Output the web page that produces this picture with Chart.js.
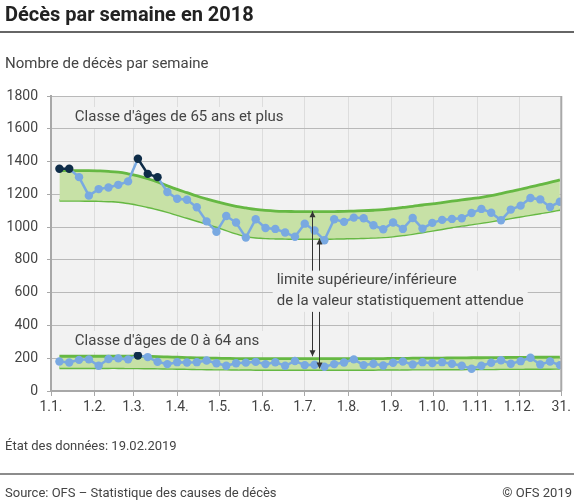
<!DOCTYPE html>
<html>
<head>
<meta charset="utf-8">
<script src="https://cdn.jsdelivr.net/npm/chart.js@4/dist/chart.umd.min.js"></script>
<style>
    html, body { margin: 0; padding: 0; background: #fff; }
    canvas { display: block; }
</style>
</head>
<body>
<canvas id="deathsChart" width="574" height="501"></canvas>
<script>
// Weeks of 2018 (ISO weeks, plotted on the Sunday ending each week)
const weeks = [1, 2, 3, 4, 5, 6, 7, 8, 9, 10, 11, 12, 13, 14, 15, 16, 17, 18, 19, 20,
    21, 22, 23, 24, 25, 26, 27, 28, 29, 30, 31, 32, 33, 34, 35, 36, 37, 38, 39, 40,
    41, 42, 43, 44, 45, 46, 47, 48, 49, 50, 51, 52];

// Age class 65+
const deaths65 = [1356, 1356, 1305, 1192, 1232, 1242, 1258, 1279, 1417, 1325,
    1305, 1214, 1173, 1167, 1121, 1035, 971, 1068, 1028, 936,
    1048, 995, 989, 967, 941, 1021, 979, 920, 1048, 1032,
    1058, 1054, 1011, 987, 1028, 989, 1056, 991, 1026, 1044,
    1050, 1054, 1086, 1111, 1088, 1042, 1107, 1131, 1178, 1169,
    1123, 1155];
const upper65 = [1345, 1345, 1345, 1345, 1343, 1340, 1335, 1325, 1312, 1295,
    1275, 1252, 1230, 1210, 1190, 1172, 1155, 1140, 1127, 1117,
    1108, 1102, 1098, 1096, 1095, 1094, 1094, 1094, 1095, 1096,
    1098, 1100, 1103, 1107, 1113, 1120, 1127, 1135, 1142, 1150,
    1158, 1166, 1174, 1182, 1192, 1205, 1218, 1231, 1245, 1259,
    1273, 1288];
const lower65 = [1163, 1163, 1163, 1162, 1161, 1159, 1156, 1148, 1137, 1124,
    1110, 1094, 1076, 1058, 1040, 1022, 1003, 983, 963, 946,
    938, 934, 932, 931, 930, 930, 930, 930, 931, 932,
    933, 935, 937, 940, 945, 952, 960, 970, 980, 990,
    1000, 1010, 1018, 1027, 1036, 1046, 1056, 1066, 1076, 1086,
    1096, 1107];

// Age class 0-64
const deaths064 = [180, 174, 190, 193, 154, 195, 199, 193, 217, 207,
    178, 164, 176, 174, 176, 186, 169, 154, 169, 173,
    178, 164, 175, 154, 183, 158, 160, 148, 164, 174,
    193, 158, 166, 156, 172, 180, 162, 176, 170, 176,
    166, 154, 136, 154, 172, 188, 166, 182, 203, 162,
    180, 158];
const upper064 = [212, 212, 212, 212, 212, 212, 212, 212, 212, 211,
    210, 208, 206, 204, 202, 201, 200, 199, 198, 198,
    197, 197, 197, 197, 197, 197, 197, 197, 197, 197,
    197, 198, 198, 198, 199, 199, 200, 200, 201, 201,
    202, 202, 203, 203, 204, 204, 205, 205, 206, 206,
    206, 207];
const lower064 = [142, 142, 142, 142, 142, 142, 142, 141, 141, 140,
    139, 138, 137, 136, 135, 134, 133, 133, 132, 132,
    131, 131, 131, 131, 131, 131, 131, 131, 131, 131,
    131, 131, 131, 132, 132, 132, 133, 133, 133, 134,
    134, 134, 135, 135, 135, 136, 136, 136, 137, 137,
    137, 138];

// X axis: day of year (1 Jan = 0), ticks on first of each month and 31 Dec
const monthTicks = [0, 31, 59, 90, 120, 151, 181, 212, 243, 273, 304, 334, 364];
const monthLabels = ['1.1.', '1.2.', '1.3.', '1.4.', '1.5.', '1.6.', '1.7.',
    '1.8.', '1.9.', '1.10.', '1.11.', '1.12.', '31.'];
const yTicks = [0, 200, 400, 600, 800, 1000, 1200, 1400, 1600, 1800];

const FONT = 'Roboto, "Open Sans", sans-serif';
const TEXT = '#444444';
const PLOT_BG = '#f2f2f2';
const BLUE = '#79a9e1';
const NAVY = '#0e2c48';
const GREEN = '#66b843';
const GREEN_FILL = '#c7e1a6';

function weekDay(w) {
    return 6 + 7 * (w - 1);
}

function toPoints(values) {
    return weeks.map((w, i) => ({ x: weekDay(w), y: values[i] }));
}

function seriesDataset(values, upper) {
    const high = i => values[i] > upper[i];
    return {
        data: toPoints(values),
        order: 0,
        borderColor: BLUE,
        borderWidth: 2.5,
        pointRadius: 4.2,
        pointBorderWidth: 0,
        pointBackgroundColor: ctx => high(ctx.dataIndex) ? NAVY : BLUE,
        fill: false,
        tension: 0,
        segment: {
            borderColor: ctx => (high(ctx.p0DataIndex) && high(ctx.p1DataIndex)) ? NAVY : BLUE
        }
    };
}

function bandDataset(values, fill) {
    return {
        data: toPoints(values),
        order: 1,
        borderColor: GREEN,
        borderWidth: 2.8,
        backgroundColor: GREEN_FILL,
        pointRadius: 0,
        tension: 0.4,
        fill: fill
    };
}

// Plot background + right frame
const plotBackground = {
    id: 'plotBackground',
    beforeDraw(chart) {
        const { ctx, chartArea } = chart;
        ctx.save();
        ctx.fillStyle = PLOT_BG;
        ctx.fillRect(chartArea.left, chartArea.top, chartArea.right - chartArea.left, chartArea.bottom - chartArea.top);
        ctx.restore();
    },
    afterDraw(chart) {
        const { ctx, chartArea } = chart;
        ctx.save();
        ctx.strokeStyle = '#a8a8a8';
        ctx.lineWidth = 2;
        ctx.beginPath();
        ctx.moveTo(chartArea.right, chartArea.top);
        ctx.lineTo(chartArea.right, chartArea.bottom);
        ctx.stroke();
        ctx.restore();
    }
};

function drawLabel(ctx, lines, x, yCenters) {
    ctx.font = '15px ' + FONT;
    const w = Math.max(...lines.map(l => ctx.measureText(l).width));
    const top = yCenters[0] - 10;
    const bottom = yCenters[yCenters.length - 1] + 11;
    ctx.fillStyle = PLOT_BG;
    ctx.fillRect(x - 4, top, w + 8, bottom - top);
    ctx.fillStyle = TEXT;
    ctx.textAlign = 'left';
    ctx.textBaseline = 'middle';
    lines.forEach((l, i) => ctx.fillText(l, x, yCenters[i]));
    return { top, bottom };
}

function drawArrow(ctx, x, y0, y1) {
    // line from y0 to y1, arrowhead at y1
    ctx.beginPath();
    ctx.moveTo(x, y0);
    ctx.lineTo(x, y1);
    ctx.stroke();
    const dir = y1 < y0 ? 1 : -1;
    ctx.beginPath();
    ctx.moveTo(x, y1);
    ctx.lineTo(x - 3, y1 + dir * 6);
    ctx.lineTo(x + 3, y1 + dir * 6);
    ctx.closePath();
    ctx.fill();
}

const annotations = {
    id: 'annotations',
    afterDatasetsDraw(chart) {
        const { ctx, scales: { x, y } } = chart;
        ctx.save();
        drawLabel(ctx, ["Classe d'âges de 65 ans et plus"], x.getPixelForValue(17), [y.getPixelForValue(1672)]);
        drawLabel(ctx, ["Classe d'âges de 0 à 64 ans"], x.getPixelForValue(17), [y.getPixelForValue(305)]);
        const box = drawLabel(ctx, ['limite supérieure/inférieure', 'de la valeur statistiquement attendue'],
            x.getPixelForValue(161), [y.getPixelForValue(673), y.getPixelForValue(550)]);

        ctx.strokeStyle = '#333333';
        ctx.fillStyle = '#333333';
        ctx.lineWidth = 1;
        const xa = Math.round(x.getPixelForValue(186.4)) + 0.5;
        const xb = Math.round(x.getPixelForValue(191.4)) + 0.5;
        drawArrow(ctx, xa, box.top, y.getPixelForValue(1097));
        drawArrow(ctx, xa, box.bottom, y.getPixelForValue(212));
        drawArrow(ctx, xb, box.top, y.getPixelForValue(930));
        drawArrow(ctx, xb, box.bottom, y.getPixelForValue(138));
        ctx.restore();
    }
};

// Title, subtitle, notes
const frameTexts = {
    id: 'frameTexts',
    afterDraw(chart) {
        const ctx = chart.ctx;
        const W = chart.width;
        ctx.save();
        ctx.textBaseline = 'alphabetic';
        ctx.textAlign = 'left';
        ctx.fillStyle = '#222222';
        ctx.font = 'bold 20px ' + FONT;
        ctx.fillText('Décès par semaine en 2018', 5, 21);

        ctx.strokeStyle = '#333333';
        ctx.lineWidth = 1.5;
        ctx.beginPath();
        ctx.moveTo(0, 32);
        ctx.lineTo(W, 32);
        ctx.stroke();

        ctx.fillStyle = TEXT;
        ctx.font = '15px ' + FONT;
        ctx.fillText('Nombre de décès par semaine', 5, 68);

        ctx.font = '13px ' + FONT;
        ctx.fillText('État des données: 19.02.2019', 5, 450);

        ctx.strokeStyle = '#8c8c8c';
        ctx.lineWidth = 2;
        ctx.beginPath();
        ctx.moveTo(0, 474);
        ctx.lineTo(W, 474);
        ctx.stroke();

        ctx.fillText('Source: OFS – Statistique des causes de décès', 5, 497);
        ctx.textAlign = 'right';
        ctx.fillText('© OFS 2019', W - 2, 497);
        ctx.restore();
    }
};

document.addEventListener('DOMContentLoaded', function() {
    const ctx = document.getElementById('deathsChart').getContext('2d');
    const deathsChart = new Chart(ctx, {
        type: 'line',
        data: {
            datasets: [
                seriesDataset(deaths65, upper65),
                seriesDataset(deaths064, upper064),
                bandDataset(upper65, '+1'),
                bandDataset(lower65, false),
                bandDataset(upper064, '+1'),
                bandDataset(lower064, false)
            ]
        },
        options: {
            responsive: false,
            animation: false,
            layout: {
                padding: { top: 96, right: 2, bottom: 0, left: 0 }
            },
            plugins: {
                legend: { display: false },
                tooltip: { enabled: false }
            },
            scales: {
                x: {
                    type: 'linear',
                    min: 0,
                    max: 364,
                    afterBuildTicks: function(scale) {
                        scale.ticks = monthTicks.map(v => ({ value: v }));
                    },
                    afterFit: function(scale) {
                        scale.height = 110;
                    },
                    ticks: {
                        autoSkip: false,
                        maxRotation: 0,
                        padding: 3,
                        color: TEXT,
                        font: { family: FONT, size: 14 },
                        callback: function(value) {
                            const i = monthTicks.indexOf(value);
                            return i >= 0 ? monthLabels[i] : '';
                        }
                    },
                    grid: { color: '#dddddd', tickColor: '#a8a8a8', tickLength: 5 },
                    border: { color: '#a8a8a8', width: 2 }
                },
                y: {
                    min: 0,
                    max: 1800,
                    afterBuildTicks: function(scale) {
                        scale.ticks = yTicks.map(v => ({ value: v }));
                    },
                    afterFit: function(scale) {
                        scale.width = 51;
                    },
                    ticks: {
                        padding: 9,
                        color: TEXT,
                        font: { family: FONT, size: 14 },
                        callback: function(value) {
                            return String(value);
                        }
                    },
                    grid: { color: '#b9b9b9', tickColor: '#a8a8a8', tickLength: 4 },
                    border: { color: '#a8a8a8', width: 2 }
                }
            }
        },
        plugins: [plotBackground, annotations, frameTexts]
    });
});
</script>
</body>
</html>
